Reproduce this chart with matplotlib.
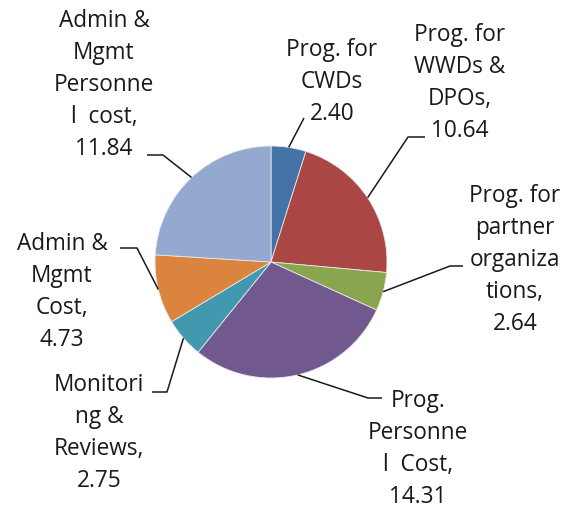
import numpy as np
import matplotlib.pyplot as plt

# slice data (clockwise from 12 o'clock)
categories = ["Prog. for\nCWDs", "Prog. for\nWWDs &\nDPOs,", "Prog. for\npartner\norganiza\ntions,",
              "Prog.\nPersonne\nl  Cost,", "Monitori\nng &\nReviews,", "Admin &\nMgmt\nCost,",
              "Admin &\nMgmt\nPersonne\nl  cost,"]
values = [2.40, 10.64, 2.64, 14.31, 2.75, 4.73, 11.84]
colors = ["#4572A7", "#AA4643", "#89A54E", "#71588F", "#4198AF", "#DB843D", "#93A9CF"]

# label layout in pixels (x, y from top): text block centre, then leader elbow points
text_pos = [(332, 81), (460, 82), (515, 259), (418, 448), (99, 432), (62, 291), (104, 84)]
elbows = [[(304, 118)],
          [(408, 137), (425, 137)],
          [(450, 266), (463, 266)],
          [(368, 398), (382, 398)],
          [(167, 392), (152, 392)],
          [(137, 248), (120, 248)],
          [(163, 155), (147, 155)]]
LINE_H = 32      # px between label lines
BASE_OFF = 7     # px from line middle down to baseline

W, H = 571, 509
CX, CY, R = 271, 262, 116

plt.rcParams['font.family'] = ['Open Sans', 'DejaVu Sans']

fig = plt.figure(figsize=(W / 100, H / 100), dpi=100)
ax = fig.add_axes([0, 0, 1, 1])

ax.pie(values, colors=colors, startangle=90, counterclock=False,
       center=(CX, H - CY), radius=R, frame=True,
       wedgeprops=dict(edgecolor='#e8e8e8', linewidth=0.6))
ax.set_xlim(0, W)
ax.set_ylim(0, H)
ax.set_aspect('equal')
ax.axis('off')

total = sum(values)
cum = np.cumsum([0] + values)
for i, v in enumerate(values):
    # leader starts on the rim at the middle of the slice
    mid = (cum[i] + v / 2) / total * 2 * np.pi
    sx = CX + R * np.sin(mid)
    sy = CY - R * np.cos(mid)
    pts = [(sx, sy)] + elbows[i]
    ax.plot([p[0] for p in pts], [H - p[1] for p in pts], color='#1a1a1a', lw=1.1,
            solid_capstyle='butt')

    lines = categories[i].split("\n") + [f"{v:.2f}"]
    tx, ty = text_pos[i]
    n = len(lines)
    for k, line in enumerate(lines):
        ly = ty + (k - (n - 1) / 2) * LINE_H + BASE_OFF
        ax.text(tx, H - ly, line, ha='center', va='baseline', fontsize=16.3,
                color='#1a1a1a')

fig.savefig('out.png', dpi=100)
